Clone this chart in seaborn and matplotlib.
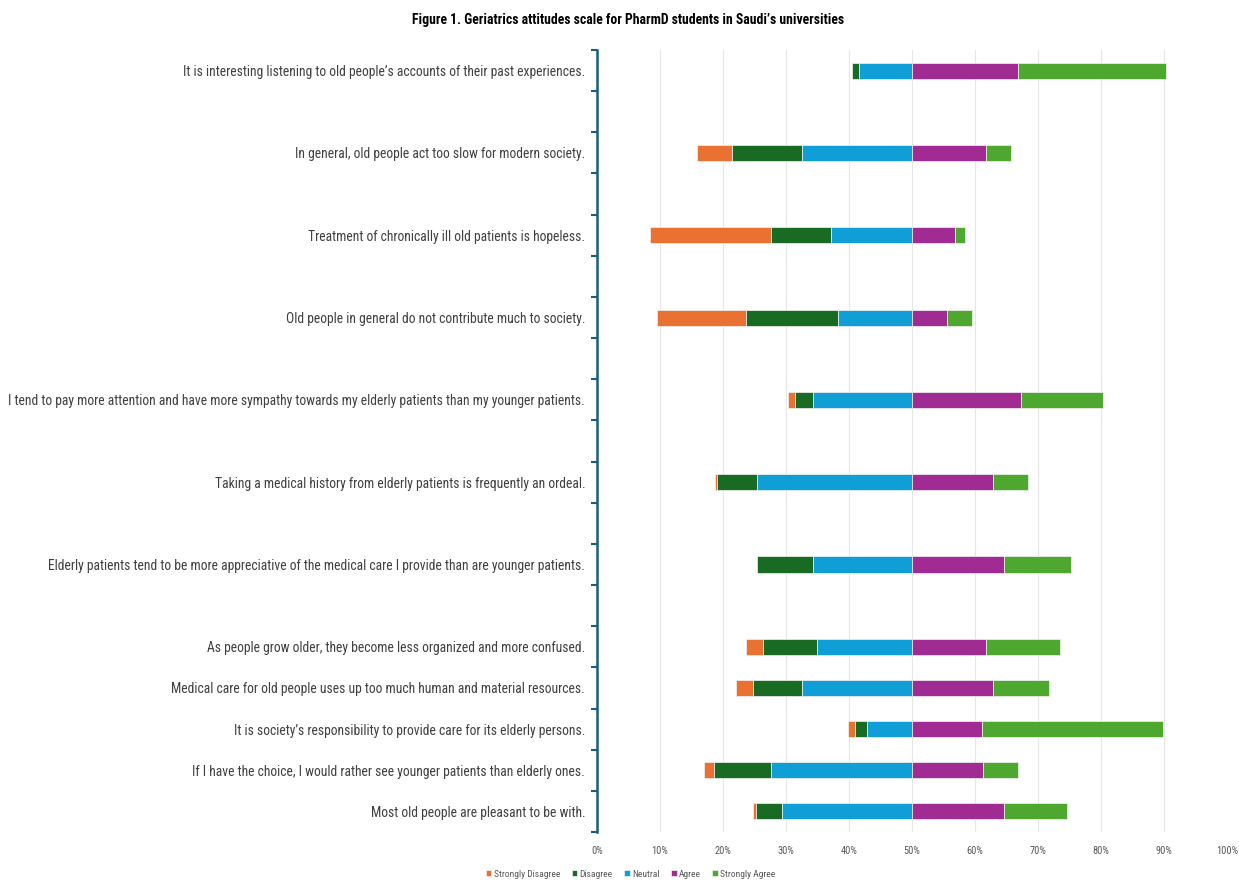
import numpy as np
import matplotlib
matplotlib.use("Agg")
import matplotlib.pyplot as plt
import seaborn as sns

# Statements, top to bottom (None = empty slot on the category axis)
statements = [
    "It is interesting listening to old people\u2019s accounts of their past experiences.",
    None,
    "In general, old people act too slow for modern society.",
    None,
    "Treatment of chronically ill old patients is hopeless.",
    None,
    "Old people in general do not contribute much to society.",
    None,
    "I tend to pay more attention and have more sympathy towards my elderly patients than my younger patients.",
    None,
    "Taking a medical history from elderly patients is frequently an ordeal.",
    None,
    "Elderly patients tend to be more appreciative of the medical care I provide than are younger patients.",
    None,
    "As people grow older, they become less organized and more confused.",
    "Medical care for old people uses up too much human and material resources.",
    "It is society\u2019s responsibility to provide care for its elderly persons.",
    "If I have the choice, I would rather see younger patients than elderly ones.",
    "Most old people are pleasant to be with.",
]

# segment lengths in percentage points (neutral sits left of the 50% line)
strongly_disagree = [0.0, None, 5.5, None, 19.1, None, 14.0, None, 1.1, None, 0.4, None, 0.0, None, 2.8, 2.8, 1.1, 1.6, 0.6]
disagree = [1.1, None, 11.2, None, 9.5, None, 14.6, None, 2.8, None, 6.3, None, 8.9, None, 8.5, 7.8, 1.8, 9.0, 4.0]
neutral = [8.4, None, 17.4, None, 12.9, None, 11.8, None, 15.7, None, 24.6, None, 15.7, None, 15.1, 17.4, 7.2, 22.4, 20.7]
agree = [16.9, None, 11.8, None, 6.8, None, 5.6, None, 17.3, None, 12.9, None, 14.6, None, 11.8, 12.9, 11.2, 11.3, 14.6]
strongly_agree = [23.5, None, 3.9, None, 1.6, None, 4.0, None, 13.0, None, 5.6, None, 10.6, None, 11.7, 8.9, 28.6, 5.6, 10.0]

series_names = ["Strongly Disagree", "Disagree", "Neutral", "Agree", "Strongly Agree"]
colors = ["#E97132", "#196B24", "#0F9ED5", "#A02B93", "#4EA72E"]

title = "Figure 1. Geriatrics attitudes scale for PharmD students in Saudi\u2019s universities"

sns.set_theme(style="white")
plt.rcParams["font.family"] = ["Roboto Condensed", "Sofia Sans Condensed", "Asap Condensed", "DejaVu Sans"]

fig = plt.figure(figsize=(12.39, 8.8), dpi=100)
ax = fig.add_axes([0.4818, 0.0545, 0.5084, 0.8887])

def clean(vals):
    return np.array([np.nan if v is None else v for v in vals], dtype=float)

sd, d, n, a, sa = map(clean, [strongly_disagree, disagree, neutral, agree, strongly_agree])
ypos = np.arange(len(statements))
start = 50 - (sd + d + n)
lefts = start.copy()
for vals, name, col in zip([sd, d, n, a, sa], series_names, colors):
    ax.barh(ypos, vals, left=lefts, height=0.39, color=col, label=name,
            edgecolor="#f4f4f4", linewidth=0.5)
    lefts = lefts + vals

ax.set_xlim(0, 100)
ax.set_ylim(len(statements) - 0.5, -0.5)
ax.set_xticks(np.arange(0, 101, 10))
ax.set_xticklabels([f"{v}%" for v in range(0, 101, 10)], fontsize=7.5, color="#595959")
ax.xaxis.grid(True, color="#e6e6e6", linewidth=0.8)
ax.set_axisbelow(True)

ax.set_yticks(ypos)
ylabels = ax.set_yticklabels(["" if s is None else s for s in statements], fontsize=11, color="#404040")
ax.set_yticks(np.arange(-0.5, len(statements)), minor=True)
ax.tick_params(axis="y", which="major", length=0, pad=8.5)
ax.tick_params(axis="y", which="minor", length=4, width=1.5, color="#156082", left=True)
ax.tick_params(axis="x", length=0, pad=10)

for side in ["top", "right", "bottom"]:
    ax.spines[side].set_visible(False)
ax.spines["left"].set_color("#156082")
ax.spines["left"].set_linewidth(1.8)

ttl = fig.suptitle(title, x=0.507, y=0.985, fontsize=12, fontweight="bold", color="#000000")
fig.legend(loc="lower center", bbox_to_anchor=(0.509, -0.008), ncol=5, frameon=False,
           fontsize=6.8, handlelength=0.6, handleheight=0.6, handletextpad=0.25,
           columnspacing=1.2, labelcolor="#595959")

# fit label and title widths to the reference layout
fig.canvas.draw()
r = fig.canvas.get_renderer()
widest = max(t.get_window_extent(r).width for t in ylabels)
for t in ylabels:
    t.set_fontsize(11 * 578 / widest)
ttl.set_fontsize(12 * 433 / ttl.get_window_extent(r).width)

fig.savefig("out.png", dpi=100)
